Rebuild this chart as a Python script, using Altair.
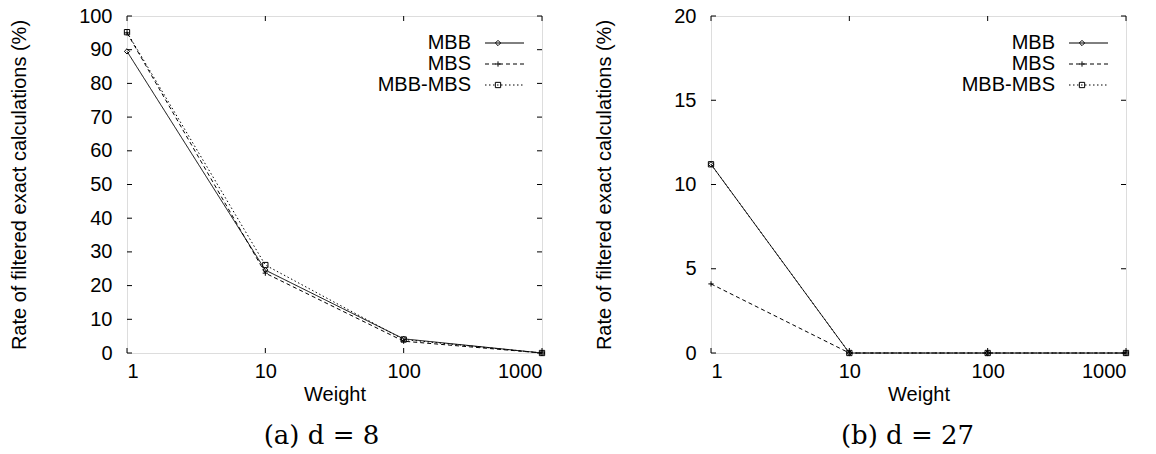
import altair as alt
import pandas as pd

weights = [1, 10, 100, 1000]
series = ["MBB", "MBS", "MBB-MBS"]

# panel (a) d = 8
a_mbb = [89.5, 24.6, 4.2, 0.0]
a_mbs = [95.0, 23.7, 3.5, 0.0]
a_mbbmbs = [95.2, 26.1, 4.0, 0.0]

# panel (b) d = 27
b_mbb = [11.2, 0.0, 0.0, 0.0]
b_mbs = [4.1, 0.0, 0.0, 0.0]
b_mbbmbs = [11.2, 0.0, 0.0, 0.0]

a_yticks = [0, 10, 20, 30, 40, 50, 60, 70, 80, 90, 100]
b_yticks = [0, 5, 10, 15, 20]

W, H = 415, 337
FONT = "Liberation Sans"
FS = 20
dashes = [[1, 0], [4, 3], [1.5, 2.5]]
shapes = ["diamond", "M-1,0L1,0M0,-1L0,1", "square"]
ytitle = "Rate of filtered exact calculations (%)"


def panel(vals, ydomain, yticks, caption, dx, tpad):
    rows = []
    for s, v in zip(series, vals):
        for w, y in zip(weights, v):
            rows.append({"weight": w, "value": y, "series": s})
    df = pd.DataFrame(rows)

    x = alt.X("weight:Q",
              scale=alt.Scale(type="log", domain=[1, 1000]),
              axis=alt.Axis(values=weights, format="d", tickSize=0, domain=False,
                            grid=False, labelFont=FONT, labelFontSize=FS,
                            labelPadding=8, titleFont=FONT, titleFontSize=FS,
                            titleFontWeight="normal", titlePadding=3,
                            labelColor="black", titleColor="black"),
              title="Weight")
    y = alt.Y("value:Q",
              scale=alt.Scale(domain=ydomain, nice=False, zero=False),
              axis=alt.Axis(values=yticks, tickSize=0, domain=False, grid=False,
                            labelFont=FONT, labelFontSize=FS, labelPadding=15,
                            titleFont=FONT, titleFontSize=FS, titleFontWeight="normal",
                            titlePadding=tpad, labelColor="black", titleColor="black"),
              title=ytitle)

    base = alt.Chart(df)
    lines = base.mark_line(color="black", strokeWidth=1).encode(
        x=x, y=y,
        strokeDash=alt.StrokeDash("series:N", scale=alt.Scale(domain=series, range=dashes), legend=None),
        detail="series:N",
    )
    points = base.mark_point(color="black", filled=False, size=28, strokeWidth=1, opacity=1).encode(
        x=x, y=y,
        shape=alt.Shape("series:N", scale=alt.Scale(domain=series, range=shapes), legend=None),
    )

    ytd = pd.DataFrame({"value": yticks})
    xtd = pd.DataFrame({"weight": weights})
    tl = alt.Chart(ytd).mark_rule(color="black", strokeWidth=1).encode(
        y=y, x=alt.value(0), x2=alt.value(5))
    tr = alt.Chart(ytd).mark_rule(color="black", strokeWidth=1).encode(
        y=y, x=alt.value(W - 5), x2=alt.value(W))
    tb = alt.Chart(xtd).mark_rule(color="black", strokeWidth=1).encode(
        x=x, y=alt.value(H - 5), y2=alt.value(H))
    tt = alt.Chart(xtd).mark_rule(color="black", strokeWidth=1).encode(
        x=x, y=alt.value(0), y2=alt.value(5))

    legend = []
    for i, s in enumerate(series):
        ly = 27 + 21 * i
        one = alt.Chart(pd.DataFrame({"series": [s]}))
        legend.append(one.mark_text(align="right", baseline="middle", font=FONT,
                                    fontSize=FS, color="black").encode(
            x=alt.value(344), y=alt.value(ly), text="series:N"))
        legend.append(one.mark_rule(color="black", strokeWidth=1, strokeDash=dashes[i]).encode(
            x=alt.value(358), x2=alt.value(397), y=alt.value(ly)))
        legend.append(one.mark_point(color="black", filled=False, size=28, strokeWidth=1,
                                     opacity=1, shape=shapes[i]).encode(
            x=alt.value(371), y=alt.value(ly)))

    return alt.layer(lines, points, tl, tr, tb, tt, *legend).properties(
        width=W, height=H,
        title=alt.TitleParams(caption, orient="bottom", anchor="middle", font="DejaVu Serif",
                              fontSize=26, fontWeight="normal", color="black", dx=dx, offset=19),
    )


pa = panel([a_mbb, a_mbs, a_mbbmbs], [0, 100], a_yticks, "(a) d = 8", -13, 49)
pb = panel([b_mbb, b_mbs, b_mbbmbs], [0, 20], b_yticks, "(b) d = 27", -11, 59)

chart = alt.hconcat(pa, pb, spacing=46).properties(
    padding={"left": 9, "top": 5, "right": 5, "bottom": 5},
).configure_view(stroke="black", strokeWidth=1).configure(background="white")

chart.save("out.html", embed_options={"renderer": "svg", "actions": False})
